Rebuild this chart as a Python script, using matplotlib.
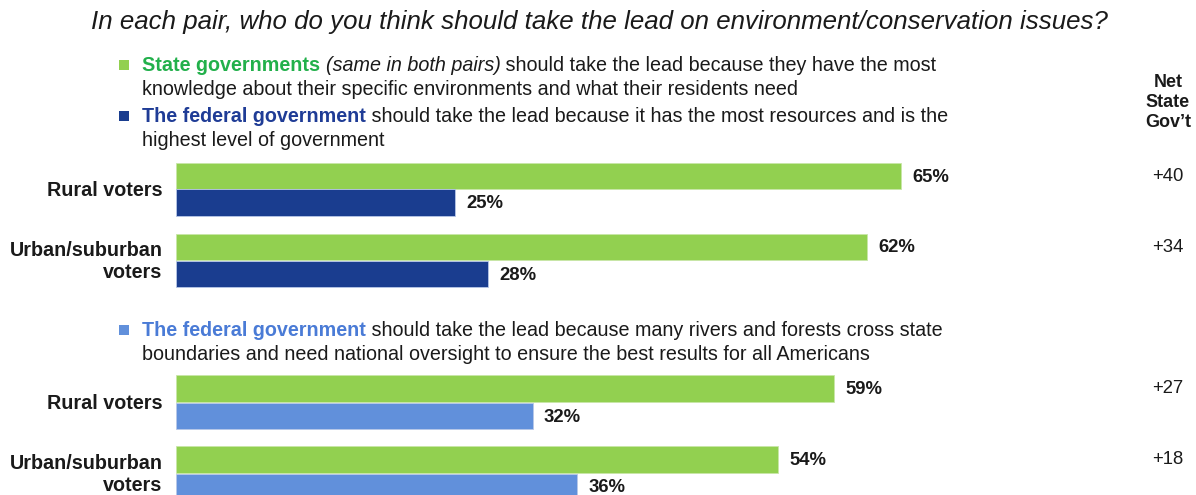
import matplotlib.pyplot as plt
from matplotlib.patches import Rectangle

plt.rcParams['font.family'] = ['Liberation Sans', 'DejaVu Sans']

# data
groups = ["Rural voters", "Urban/suburban\nvoters", "Rural voters", "Urban/suburban\nvoters"]
state_vals = [65, 62, 59, 54]
federal_vals = [25, 28, 32, 36]
net_labels = ["+40", "+34", "+27", "+18"]

GREEN = '#92D050'
DARK_BLUE = '#1A3D8F'
LIGHT_BLUE = '#6190DB'
TXT_GREEN = '#22B04B'
TXT_DARK = '#1F3C96'
TXT_LIGHT = '#4A7BD6'
BLK = '#1a1a1a'

W, H = 1196, 495
fig = plt.figure(figsize=(W / 100, H / 100), dpi=100)


def fx(x):
    return x / W


def fy(y):
    return 1 - y / H


# bar axes: x in percent, y in pixel rows (top-down)
ax = fig.add_axes([fx(176), 0, 1 - fx(176), 1])
ax.set_xlim(0, (W - 176) / 11.15)
ax.set_ylim(H, 0)
ax.axis('off')

green_y = [176, 247, 388.5, 459.5]
fed_y = [202.5, 274, 416, 487]
fed_colors = [DARK_BLUE, DARK_BLUE, LIGHT_BLUE, LIGHT_BLUE]
bar_h = 26.5

ax.barh(green_y, state_vals, height=bar_h, color=GREEN, edgecolor='#C8E6A8', linewidth=0.6)
ax.barh(fed_y, federal_vals, height=bar_h, color=fed_colors, edgecolor='#B8C8E8', linewidth=0.6)

for yc, v in zip(green_y, state_vals):
    ax.text(v + 1.0, yc + 1, f"{v}%", va='center', ha='left', fontsize=13.3,
            fontweight='bold', color=BLK)
for yc, v in zip(fed_y, federal_vals):
    ax.text(v + 1.0, yc + 1, f"{v}%", va='center', ha='left', fontsize=13.3,
            fontweight='bold', color=BLK)

for g, yg, yf in zip(groups, green_y, fed_y):
    ax.text(-1.2, (yg + yf) / 2 + 1, g, ha='right', va='center', fontsize=14.2,
            fontweight='bold', color=BLK, linespacing=1.22)

# net column
fig.text(fx(1168), fy(102.5), "Net\nState\nGov\u2019t", ha='center', va='center',
         fontsize=13, fontweight='bold', color=BLK, linespacing=1.25)
for yg, lab in zip(green_y, net_labels):
    fig.text(fx(1168), fy(yg), lab, ha='center', va='center', fontsize=13.3,
             color=BLK)

# title
fig.text(fx(599), fy(22), "In each pair, who do you think should take the lead on "
         "environment/conservation issues?", ha='center', va='center',
         fontsize=18.6, style='italic', color=BLK)


def chain(x, y, parts, size=14.2):
    """coloured text pieces on one line; y is the baseline in px"""
    prev = None
    for s, c, w, st in parts:
        if prev is None:
            prev = fig.text(fx(x), fy(y), s, ha='left', va='baseline', fontsize=size,
                            color=c, fontweight=w, style=st)
        else:
            prev = plt.annotate(s, xy=(1, 0), xycoords=prev, ha='left', va='bottom',
                                fontsize=size, color=c, fontweight=w, style=st,
                                annotation_clip=False)
    return prev


LEG = 14.2
chain(142, 71, [("State governments ", TXT_GREEN, 'bold', 'normal'),
                ("(same in both pairs)", BLK, 'normal', 'italic'),
                (" should take the lead because they have the most", BLK, 'normal', 'normal')])
fig.text(fx(142), fy(95), "knowledge about their specific environments and what their residents need",
         ha='left', va='baseline', fontsize=LEG, color=BLK)
chain(142, 122, [("The federal government", TXT_DARK, 'bold', 'normal'),
                 (" should take the lead because it has the most resources and is the",
                  BLK, 'normal', 'normal')])
fig.text(fx(142), fy(146), "highest level of government",
         ha='left', va='baseline', fontsize=LEG, color=BLK)
chain(142, 336, [("The federal government", TXT_LIGHT, 'bold', 'normal'),
                 (" should take the lead because many rivers and forests cross state",
                  BLK, 'normal', 'normal')])
fig.text(fx(142), fy(360), "boundaries and need national oversight to ensure the best results for all Americans",
         ha='left', va='baseline', fontsize=LEG, color=BLK)

# legend squares
for ys, c in [(60, GREEN), (111, DARK_BLUE), (325, LIGHT_BLUE)]:
    fig.add_artist(Rectangle((fx(119), fy(ys + 10)), 10 / W, 10 / H,
                             transform=fig.transFigure, color=c, lw=0))

fig.savefig('out.png', dpi=100)
